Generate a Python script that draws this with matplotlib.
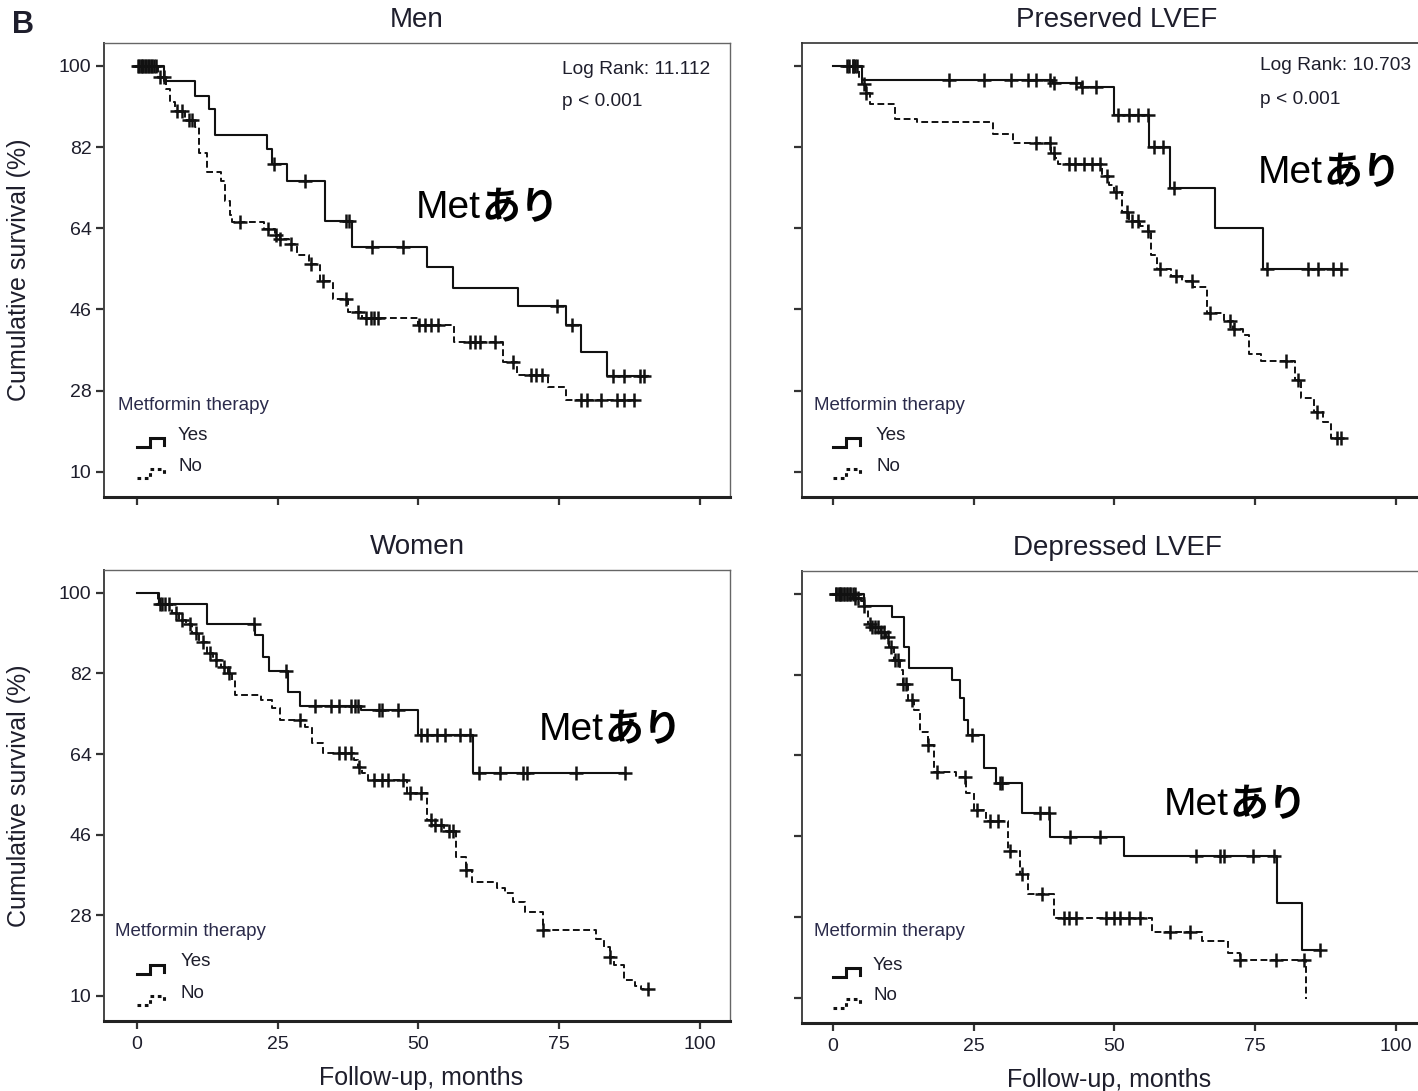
import numpy as np
import matplotlib
matplotlib.use("Agg")
import matplotlib.pyplot as plt
from matplotlib.lines import Line2D

plt.rcParams['font.family'] = ['Liberation Sans', 'Noto Sans CJK JP', 'DejaVu Sans']

W, H = 1418, 1091

# ---- data (months, survival %) ----
titles = ["Men", "Preserved LVEF", "Women", "Depressed LVEF"]
log_rank = ["Log Rank: 11.112", "Log Rank: 10.703", None, None]
p_text = ["p < 0.001", "p < 0.001", None, None]

men_yes_t = [0, 4.9, 10.4, 12.8, 13.9, 23.2, 24.1, 26.6, 33.5, 38.2, 51.6, 56.1, 67.7, 76.2, 78.8, 83.5]
men_yes_s = [100, 96.7, 93.4, 90.4, 84.7, 81.6, 78.2, 74.6, 65.7, 59.8, 55.5, 50.7, 46.7, 42.5, 36.6, 31.3]
men_yes_c = [0.3, 0.8, 1.2, 1.6, 2.0, 2.5, 3.0, 24.4, 29.9, 37.1, 37.6, 41.8, 47.2, 74.6, 77.3,
             84.6, 86.4, 89.3, 90.0]
men_no_t = [0, 3.8, 5.2, 6.0, 6.8, 8.5, 10.3, 11.0, 12.5, 15.0, 15.6, 16.5, 17.0, 22.6, 24.5, 25.5,
            27.0, 28.4, 30.5, 32.5, 34.9, 37.5, 40.0, 50.0, 56.3, 65.0, 67.5, 73.0, 76.2]
men_no_s = [100, 97.5, 95, 92, 90, 88, 86.5, 80.8, 76.4, 74.6, 70, 67, 65.3, 63.9, 62.5, 61.6,
            60.5, 58.0, 56.1, 52.4, 48.4, 45.4, 44.0, 42.6, 38.8, 34.4, 31.4, 28.8, 25.9]
men_no_c = [0.5, 1.0, 1.5, 2.2, 2.8, 3.5, 4.2, 4.8, 7.2, 8.0, 9.2, 9.9, 18.3, 23.3, 24.8, 25.5, 27.3,
            30.9, 33.0, 37.1, 39.3, 40.7, 41.5, 42.2, 42.9, 50.1, 51.2, 52.3, 53.4, 59.2, 60.0, 61.0,
            63.6, 66.8, 70.0, 70.8, 71.9, 78.8, 79.9, 82.4, 85.3, 86.4, 88.2]

pres_yes_t = [0, 5.1, 39.0, 44.0, 49.9, 56.2, 59.8, 67.8, 76.3]
pres_yes_s = [100, 96.8, 96.2, 95.3, 89.1, 82.0, 72.9, 64.0, 55.0]
pres_yes_c = [2.5, 3.5, 4.2, 20.6, 26.8, 31.7, 34.6, 36.0, 38.5, 39.2, 43.1, 44.2, 46.7, 50.6, 52.5,
              54.2, 55.9, 57.0, 58.7, 60.6, 77.1, 84.3, 86.1, 88.9, 90.3]
pres_no_t = [0, 4.6, 5.2, 5.8, 6.5, 11.0, 15.0, 28.5, 32.0, 38.8, 39.5, 40.0, 47.7, 49.1, 50.0, 51.3,
             52.5, 54.5, 55.9, 56.5, 57.5, 60.0, 62.0, 64.0, 66.5, 69.5, 71.0, 72.8, 73.9, 76.0,
             82.0, 83.2, 85.5, 87.0, 88.4]
pres_no_s = [100, 97.5, 96, 94, 91.5, 88.2, 87.5, 85, 83, 80.8, 79.7, 78.2, 75.7, 73.5, 72.0, 67.7,
             65.7, 64.6, 63.5, 58, 55, 53.5, 52.2, 51, 45.3, 43.5, 41.7, 40.3, 36.2, 34.5,
             30.3, 26.3, 23.3, 21.1, 17.4]
pres_no_c = [2.8, 3.5, 4.0, 5.5, 5.8, 36.0, 38.5, 39.2, 42.0, 43.0, 44.5, 46.0, 47.4, 48.7, 50.2,
             52.3, 53.2, 54.1, 55.9, 58.0, 60.9, 63.7, 66.9, 70.5, 71.2, 80.4, 82.6, 86.0, 89.5, 90.3]

wom_yes_t = [0, 4.0, 12.5, 21.0, 22.4, 23.4, 26.9, 28.9, 39.9, 49.9, 59.7]
wom_yes_s = [100, 97.6, 93.0, 90.6, 85.7, 82.6, 77.9, 74.7, 73.8, 68.2, 59.8]
wom_yes_c = [20.8, 26.5, 31.6, 34.5, 35.9, 38.1, 38.8, 39.2, 43.0, 43.5, 46.4, 50.4, 51.5, 53.3,
             54.8, 57.3, 59.1, 60.8, 64.4, 68.6, 69.3, 78.0, 86.7]
wom_no_t = [0, 3.8, 6.2, 7.5, 8.7, 9.8, 11.0, 12.5, 13.5, 15.0, 16.2, 17.0, 17.4, 22.1, 24.0, 25.4,
            29.8, 31.2, 33.0, 38.5, 39.2, 40.0, 41.0, 47.9, 51.5, 52.5, 54.5, 56.6, 58.4, 59.5,
            63.9, 65.3, 66.8, 68.9, 72.2, 81.6, 82.9, 84.0, 84.7, 86.4, 88.5, 89.5]
wom_no_s = [100, 97.6, 95.5, 94, 93, 91, 89, 86.5, 85, 83.5, 82, 80.5, 77.2, 76, 74.2, 71.7,
            70.1, 66.4, 64.3, 62.6, 61.2, 59.7, 58.3, 55.2, 49.3, 48.2, 46.8, 41.1, 38.1, 35.5,
            34.0, 32.9, 31.0, 28.8, 24.7, 22.8, 21.0, 18.7, 16.9, 13.5, 12.2, 11.5]
wom_no_c = [4.2, 4.5, 5.0, 5.8, 7.0, 8.0, 9.5, 10.5, 11.8, 13.0, 14.0, 15.5, 16.3, 29.0, 35.9, 37.0,
            38.1, 39.5, 42.1, 43.5, 44.6, 47.2, 48.5, 50.4, 52.2, 53.0, 54.0, 55.5, 56.2, 58.4,
            72.2, 84.0, 90.7]

dep_yes_t = [0, 5.5, 10.4, 12.6, 13.5, 21.1, 22.5, 23.2, 24.0, 26.8, 29.0, 33.5, 38.5, 51.7, 78.9, 83.3]
dep_yes_s = [100, 97.4, 94.8, 88.2, 83.5, 80.9, 76.7, 71.9, 68.6, 61.2, 57.8, 51.2, 45.8, 41.7, 31.2, 20.6]
dep_yes_c = [0.5, 1.0, 1.5, 2.0, 2.5, 3.0, 3.5, 4.0, 24.7, 29.6, 30.0, 36.7, 38.3, 42.1, 47.5,
             64.5, 68.7, 69.4, 74.6, 78.3, 86.5]
dep_no_t = [0, 3.5, 5.0, 5.5, 6.2, 7.0, 8.5, 9.4, 10.0, 10.8, 11.9, 12.5, 13.3, 14.4, 15.4, 16.8,
            17.9, 21.8, 23.6, 25.0, 27.1, 31.1, 33.2, 34.6, 39.2, 56.6, 65.5, 70.1, 72.3, 84.1]
dep_no_s = [100, 99, 98.5, 97.4, 93.3, 92.6, 91.5, 90.4, 88.2, 85.2, 83.0, 80.0, 76.3, 74.1, 69.3, 66.4,
            60.4, 59.3, 55.6, 51.9, 49.3, 42.7, 37.6, 33.2, 27.9, 24.6, 22.6, 20.1, 18.4, 9.8]
dep_no_c = [0.5, 1.0, 1.5, 2.0, 2.5, 3.0, 4.0, 4.5, 5.5, 6.5, 7.0, 7.5, 8.0, 8.5, 9.0, 9.8, 10.3,
            11.0, 11.5, 12.5, 13.0, 14.0, 16.8, 18.5, 23.5, 25.5, 27.9, 29.3, 31.5, 33.5, 37.1, 41.0,
            42.0, 43.1, 48.5, 50.0, 51.0, 52.5, 54.5, 59.8, 63.4, 72.3, 78.7, 83.6]

curves = [
    (men_yes_t, men_yes_s, men_yes_c, 90.7, men_no_t, men_no_s, men_no_c, 88.2),
    (pres_yes_t, pres_yes_s, pres_yes_c, 90.3, pres_no_t, pres_no_s, pres_no_c, 90.3),
    (wom_yes_t, wom_yes_s, wom_yes_c, 86.7, wom_no_t, wom_no_s, wom_no_c, 90.7),
    (dep_yes_t, dep_yes_s, dep_yes_c, 86.5, dep_no_t, dep_no_s, dep_no_c, 84.1),
]

xticks = [0, 25, 50, 75, 100]
yticks = [100, 82, 64, 46, 28, 10]
legend_title = "Metformin therapy"
legend_labels = ["Yes", "No"]

# axes boxes in pixels: left, top, right, bottom (right panels run off the edge)
boxes = [(104, 43, 730, 497), (802, 43, 1432, 497), (104, 570, 730, 1021), (802, 571, 1432, 1023)]
xlims = [(-5.8, 105.3), (-5.5, 106.4), (-5.8, 105.3), (-5.5, 106.4)]
# "Met" / "あり" split point and centre height, in pixels
met_pos = [(481, 208), (1323, 173), (604, 730), (1229, 805)]
lr_pos = [(562, 69, 102), (1260, 66, 99)]
# legend: left of title, title y, left of symbol, left of label, y of first entry
leg_pos = [(118, 405, 137, 178, 435), (814, 405, 833, 876, 435),
           (115, 932, 137, 181, 962), (814, 932, 833, 873, 965)]

TXT = '#1e1e2c'
DASH = (0, (3.5, 1.8))


def px(x, y):
    return x / W, 1 - y / H


def km(ax, t, s, cens, end, ls, lw):
    tt = list(t) + [end]
    ss = list(s) + [s[-1]]
    ax.plot(tt, ss, drawstyle='steps-post', color='#111111', lw=lw, ls=ls)
    idx = np.searchsorted(np.array(t), np.array(cens), side='right') - 1
    cy = np.array(s)[idx]
    ax.plot(cens, cy, ls='none', marker='+', ms=10, mew=1.8, color='#111111')


def step_symbol(fig, x0, yc, ls):
    # little step-shaped legend key, 28 px wide
    xs = [x0, x0 + 13, x0 + 13, x0 + 27, x0 + 27]
    ys = [yc + 5, yc + 5, yc - 4, yc - 4, yc + 3]
    fx = [x / W for x in xs]
    fy = [1 - y / H for y in ys]
    fig.add_artist(Line2D(fx, fy, transform=fig.transFigure, color='#111111',
                          lw=2.2, ls=ls, solid_joinstyle='miter'))


fig = plt.figure(figsize=(W / 100, H / 100), dpi=100)

for i, (l, tp, r, b) in enumerate(boxes):
    ax = fig.add_axes([l / W, 1 - b / H, (r - l) / W, (b - tp) / H])
    yt, ys, yc, ye, nt, ns, nc, ne = curves[i]
    km(ax, nt, ns, nc, ne, DASH, 1.4)
    km(ax, yt, ys, yc, ye, '-', 1.5)

    ax.set_xlim(*xlims[i])
    ax.set_ylim(4.4, 105.1)
    ax.set_xticks(xticks)
    ax.set_yticks(yticks)
    ax.tick_params(length=6, width=1.6, labelsize=14, color='#333333', labelcolor=TXT, pad=3)
    ax.tick_params(axis='x', pad=5)
    if i < 2:
        ax.set_xticklabels([])
    else:
        ax.set_xlabel("Follow-up, months", fontsize=18, color=TXT)
        ax.xaxis.set_label_coords(0.506 if i == 2 else 0.487, -0.1)
    if i % 2 == 1:
        ax.set_yticklabels([])
    else:
        ax.set_ylabel("Cumulative survival (%)", fontsize=18, color=TXT)
        ax.yaxis.set_label_coords(-0.117, 0.5)
    ax.spines['bottom'].set_linewidth(2.2)
    ax.spines['bottom'].set_color('#222222')
    ax.spines['left'].set_linewidth(1.4)
    ax.spines['left'].set_color('#444444')
    for k in ('top', 'right'):
        ax.spines[k].set_linewidth(1.2 if i == 1 and k == 'top' else 1.0)
        ax.spines[k].set_color('#333333' if i == 1 and k == 'top' else '#666666')
    ax.set_title(titles[i], fontsize=20, pad=11.5, color=TXT)

    # legend drawn by hand to match the indented keys
    tx, ty, sx, lx, ey = leg_pos[i]
    fig.text(*px(tx, ty), legend_title, fontsize=13.5, va='center', color='#2b2b4b')
    for j, (lab, ls) in enumerate(zip(legend_labels, ['-', (0, (1.2, 1.2))])):
        yy = ey + j * 31
        fig.text(*px(lx, yy), lab, fontsize=13.5, va='center', color=TXT)
        step_symbol(fig, sx, yy + 7, ls)

    mx, my = met_pos[i]
    fig.text(*px(mx, my), "Met", fontsize=28, ha='right', va='center')
    fig.text(*px(mx, my), "あり", fontsize=28, ha='left', va='center',
             fontweight='bold', family=['Noto Sans CJK JP'])

    if log_rank[i]:
        lx2, ly1, ly2 = lr_pos[i]
        fig.text(*px(lx2, ly1), log_rank[i], fontsize=13.8, va='center', color=TXT)
        fig.text(*px(lx2, ly2), p_text[i], fontsize=13.8, va='center', color=TXT)

fig.text(*px(12, 25), "B", fontsize=22, fontweight='bold', va='center', color=TXT)

fig.savefig("out.png", dpi=100)
